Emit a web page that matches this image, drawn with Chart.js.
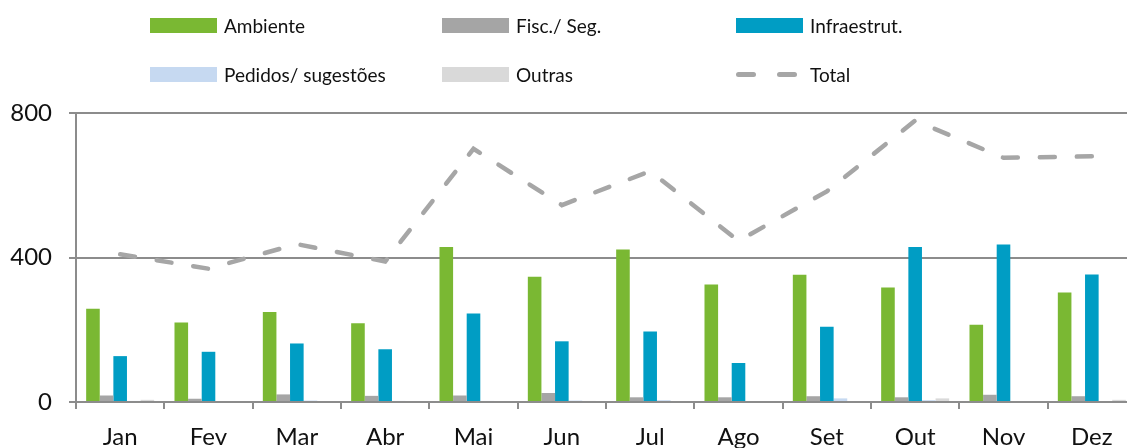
<!DOCTYPE html>
<html>
<head>
<meta charset="utf-8">
<script src="https://cdn.jsdelivr.net/npm/chart.js@4/dist/chart.umd.min.js"></script>
<style>
    body { margin: 0; background: #fff; overflow: hidden; width: 1127px; height: 448px; position: relative; font-family: Lato, "Open Sans", sans-serif; }
    #myChart { position: absolute; left: 0; top: 0; }
    .lg { position: absolute; height: 20px; display: flex; align-items: center; font-size: 19px; color: #111; white-space: nowrap; }
    .sw { width: 67px; height: 15px; margin-right: 7px; position: relative; flex: none; }
    .dash { position: absolute; top: 5px; width: 20px; height: 5px; border-radius: 3px; background: #a6a6a6; }
</style>
</head>
<body>
<canvas id="myChart" width="1160" height="448"></canvas>
<div id="legend"></div>
<script>
// dados
var months = ['Jan', 'Fev', 'Mar', 'Abr', 'Mai', 'Jun', 'Jul', 'Ago', 'Set', 'Out', 'Nov', 'Dez'];
var ambiente = [258, 220, 249, 218, 429, 347, 422, 325, 352, 317, 214, 303];
var fiscSeg = [18, 9, 21, 17, 18, 25, 13, 13, 16, 13, 20, 16];
var infraestrut = [127, 139, 162, 146, 245, 168, 195, 108, 208, 429, 436, 353];
var pedidos = [3, 0, 4, 3, 3, 4, 5, 0, 10, 5, 0, 0];
var outras = [6, 0, 0, 0, 0, 3, 0, 0, 0, 10, 0, 6];
var total = [409, 369, 437, 389, 701, 545, 639, 446, 583, 779, 676, 680];
var yTicks = [0, 400, 800];

var gridColor = '#8c8c8c';

function barSet(label, values, color) {
    return {
        label: label,
        type: 'bar',
        data: values,
        backgroundColor: color,
        order: 1,
        categoryPercentage: 0.77,
        barPercentage: 1.0
    };
}

var data = {
    labels: months,
    datasets: [
        barSet('Ambiente', ambiente, '#7ab833'),
        barSet('Fisc./ Seg.', fiscSeg, '#a5a5a5'),
        barSet('Infraestrut.', infraestrut, '#009dc4'),
        barSet('Pedidos/ sugestões', pedidos, '#c6d9f1'),
        barSet('Outras', outras, '#d9d9d9'),
        {
            label: 'Total',
            type: 'line',
            data: total,
            borderColor: '#a6a6a6',
            borderWidth: 4.5,
            borderDash: [15, 22],
            borderCapStyle: 'round',
            pointRadius: 0,
            tension: 0,
            fill: false,
            order: 0
        }
    ]
};

var ctx = document.getElementById('myChart').getContext('2d');
var chart = new Chart(ctx, {
    type: 'bar',
    data: data,
    options: {
        responsive: false,
        animation: false,
        devicePixelRatio: 1,
        layout: { padding: { top: 113, right: 24, left: 0, bottom: 0 } },
        plugins: {
            legend: { display: false },
            tooltip: { enabled: false }
        },
        scales: {
            x: {
                offset: true,
                grid: {
                    offset: true,
                    drawOnChartArea: false,
                    tickLength: 7,
                    color: gridColor,
                    lineWidth: 2
                },
                border: { display: true, color: gridColor, width: 2 },
                ticks: {
                    color: '#111',
                    padding: 14,
                    font: { family: 'Lato', size: 24 }
                },
                afterFit: function (scale) { scale.height = 46; }
            },
            y: {
                min: 0,
                max: 800,
                afterBuildTicks: function (scale) {
                    scale.ticks = yTicks.map(function (v) { return { value: v }; });
                },
                grid: {
                    tickLength: 7,
                    color: gridColor,
                    lineWidth: 2
                },
                border: { display: true, color: gridColor, width: 2 },
                ticks: {
                    color: '#111',
                    padding: 17,
                    font: { family: 'Lato', size: 24 }
                },
                afterFit: function (scale) { scale.width = 76; }
            }
        }
    }
});

// legenda em grelha de 3 colunas, como no original
var legendPos = [
    [150, 15], [442, 15], [736, 15],
    [150, 64], [442, 64], [736, 64]
];
var legend = document.getElementById('legend');
data.datasets.forEach(function (ds, i) {
    var item = document.createElement('div');
    item.className = 'lg';
    item.style.left = legendPos[i][0] + 'px';
    item.style.top = legendPos[i][1] + 'px';
    var sw = document.createElement('div');
    sw.className = 'sw';
    if (ds.type === 'line') {
        [0, 41].forEach(function (x) {
            var d = document.createElement('span');
            d.className = 'dash';
            d.style.left = x + 'px';
            sw.appendChild(d);
        });
    } else {
        sw.style.background = ds.backgroundColor;
    }
    item.appendChild(sw);
    item.appendChild(document.createTextNode(ds.label));
    legend.appendChild(item);
});
</script>
</body>
</html>
